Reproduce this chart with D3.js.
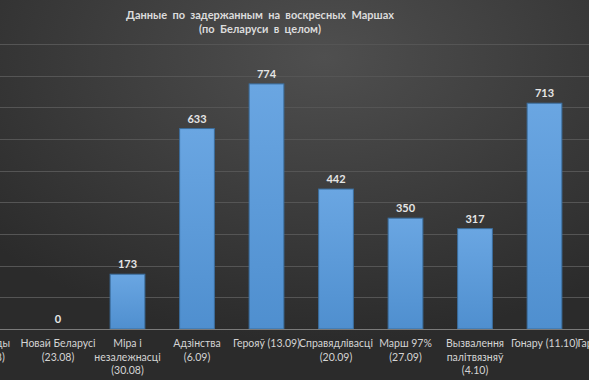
<!DOCTYPE html>
<html><head><meta charset="utf-8">
<script src="https://cdn.jsdelivr.net/npm/d3@7"></script>
<style>html,body{margin:0;padding:0;background:#333;overflow:hidden}</style>
</head><body>
<svg id="c" width="589" height="380"></svg>
<script>
const titleLines = ["Данные  по  задержанным  на  воскресных  Маршах", "(по  Беларуси  в  целом)"];
const categories = [
  "Свабоды\n(16.08)",
  "Новай Беларусі\n(23.08)",
  "Міра і\nнезалежнасці\n(30.08)",
  "Адзінства\n(6.09)",
  "Герояў (13.09)",
  "Справядлівасці\n(20.09)",
  "Марш 97%\n(27.09)",
  "Вызвалення\nпалітвязняў\n(4.10)",
  "Гонару (11.10)",
  "Гарадоў (18.10)"
];
const values = [null, 0, 173, 633, 774, 442, 350, 317, 713, null];
const yTicks = [0, 100, 200, 300, 400, 500, 600, 700, 800, 900];

const W = 589, H = 380;
const FONT = "Lato, 'Open Sans', sans-serif";
const svg = d3.select("#c");
const defs = svg.append("defs");
const bg = defs.append("radialGradient").attr("id","bg")
  .attr("cx","55%").attr("cy","15%").attr("r","75%");
bg.append("stop").attr("offset","0%").attr("stop-color","#4f4f4f");
bg.append("stop").attr("offset","100%").attr("stop-color","#2b2b2b");
const bar = defs.append("linearGradient").attr("id","bar")
  .attr("x1","0").attr("y1","0").attr("x2","0").attr("y2","1");
bar.append("stop").attr("offset","0%").attr("stop-color","#6aa6e2");
bar.append("stop").attr("offset","100%").attr("stop-color","#4f8fcf");

svg.append("rect").attr("width",W).attr("height",H).attr("fill","url(#bg)");

const x = d3.scaleBand().domain(categories).range([-46.25, 648.75])
  .paddingInner(0.5).paddingOuter(0.25);
const y = d3.scaleLinear().domain([0, 900]).range([329, 44]);

// gridlines
svg.append("g").selectAll("line").data(yTicks.slice(1)).join("line")
  .attr("x1",0).attr("x2",W).attr("y1",d=>Math.round(y(d))+0.5).attr("y2",d=>Math.round(y(d))+0.5)
  .attr("stroke","#555555").attr("stroke-width",1);

// bars
const data = categories.map((c,i)=>({c, v: values[i]})).filter(d=>d.v!==null);
svg.append("g").selectAll("rect").data(data.filter(d=>d.v>0)).join("rect")
  .attr("x",d=>x(d.c)).attr("width",x.bandwidth())
  .attr("y",d=>y(d.v)).attr("height",d=>y(0)-y(d.v))
  .attr("fill","url(#bar)").attr("stroke","#3b6d9c").attr("stroke-width",1);

// baseline
svg.append("line").attr("x1",0).attr("x2",W).attr("y1",y(0)+0.5).attr("y2",y(0)+0.5)
  .attr("stroke","#7a7a7a").attr("stroke-width",1);

// value labels
svg.append("g").selectAll("text").data(data).join("text")
  .attr("x",d=>x(d.c)+x.bandwidth()/2).attr("y",d=>y(d.v)-6)
  .attr("text-anchor","middle").attr("fill","#e6e6e6")
  .attr("font-family",FONT).attr("font-weight","bold").attr("font-size","11px")
  .text(d=>d.v);

// category labels
const xAxis = d3.axisBottom(x).tickSize(0).tickPadding(0);
const gx = svg.append("g").attr("transform",`translate(0,${y(0)})`).call(xAxis);
gx.select(".domain").remove();
gx.selectAll(".tick text").each(function(d){
  const t = d3.select(this);
  t.text(null).attr("fill","#d4d4d4").attr("font-family",FONT)
    .attr("font-size","10.5px").attr("y",0).attr("dy",null);
  d.split("\n").forEach((ln,i)=>{
    t.append("tspan").attr("x",0).attr("y",18+i*13.5).text(ln);
  });
});

// title
svg.append("g").selectAll("text").data(titleLines).join("text")
  .attr("x",260).attr("y",(d,i)=>19+i*14)
  .attr("text-anchor","middle").attr("fill","#dcdcdc")
  .attr("font-family",FONT).attr("font-weight","bold").attr("font-size","11px")
  .attr("xml:space","preserve").style("white-space","pre")
  .text(d=>d);
</script>
</body></html>
